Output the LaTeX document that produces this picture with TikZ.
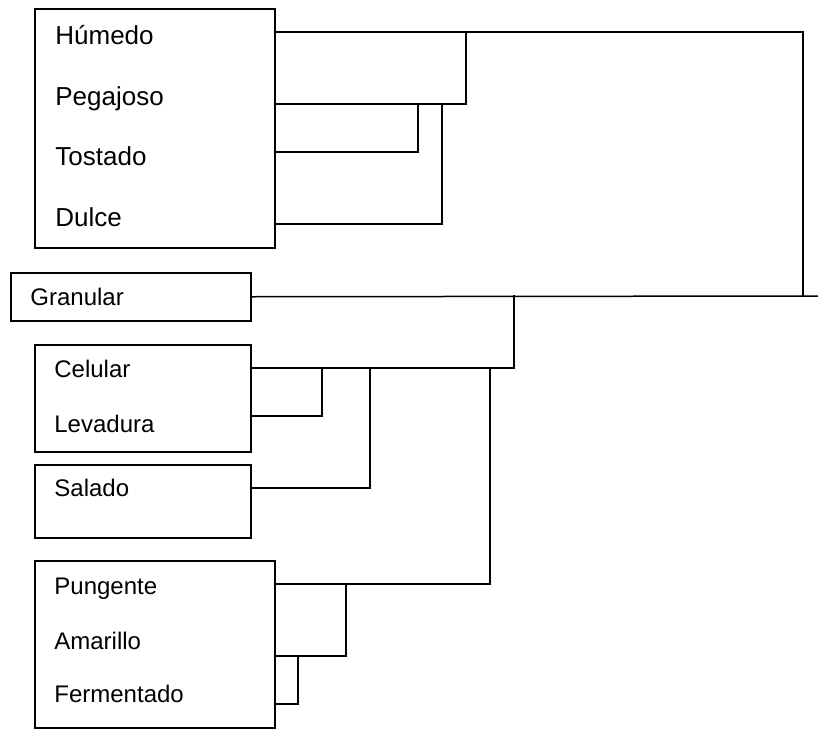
\documentclass[tikz,border=0pt]{standalone}
\usepackage{fontspec}
\setmainfont{Liberation Sans}
\usepackage{tikz}
\usetikzlibrary{positioning}

\begin{document}
\begin{tikzpicture}[
  x=0.5pt, y=-0.5pt,
  group/.style={rectangle, draw, line width=0.75pt, anchor=north west, inner sep=0pt},
  lab/.style={anchor=base west, inner sep=0pt, font=\fontsize{12}{14}\selectfont},
  labbig/.style={lab, font=\fontsize{13}{15}\selectfont},
  link/.style={line width=0.75pt, line cap=rect},
]
\useasboundingbox (0,0) rectangle (818,728);

% Boxes (left column)
\node[group, minimum width=120pt, minimum height=119.5pt] (grpA) at (34,8) {};
\node[group, minimum width=120pt, minimum height=24pt] (gran) at (10,272) {};
\node[group, minimum width=108pt, minimum height=53.5pt] (grpB) at (34,344) {};
\node[group, minimum width=108pt, minimum height=36.5pt] (grpS) at (34,464) {};
\node[group, minimum width=120pt, minimum height=83.5pt] (grpC) at (34,560) {};

% Labels
\node[labbig] (hum) at (55,44) {Húmedo};
\node[labbig] (peg) at (55,105) {Pegajoso};
\node[labbig] (tos) at (55,165) {Tostado};
\node[labbig] (dul) at (55,226) {Dulce};
\node[lab] (granlab) at (30,305) {Granular};
\node[lab] (cel) at (54,377) {Celular};
\node[lab] (lev) at (54,432) {Levadura};
\node[lab] (sal) at (54,496) {Salado};
\node[lab] (pun) at (54,594) {Pungente};
\node[lab] (ama) at (54,649) {Amarillo};
\node[lab] (fer) at (54,702) {Fermentado};

% Join points
\coordinate (top) at (803,32);
\coordinate (root) at (803,296);
\coordinate (tail) at (818,296);
\coordinate (jPeg) at (466,104);
\coordinate (jTos) at (418,152);
\coordinate (jDul) at (442,224);
\coordinate (jCel) at (514,368);
\coordinate (jLev) at (322,416);
\coordinate (jSal) at (370,488);
\coordinate (jPun) at (490,584);
\coordinate (jAma) at (346,656);
\coordinate (jFer) at (298,704);

% Upper branch
\draw[link] (grpA.east |- top) -- (top) -- (root);
\draw[link] (grpA.east |- jPeg) -| (jPeg |- top);
\draw[link] (grpA.east |- jTos) -| (jTos |- jPeg);
\draw[link] (grpA.east |- jDul) -| (jDul |- jPeg);

% Granular
\draw[link] (gran.east) -- (tail);

% Lower branch
\draw[link] (grpB.east |- jCel) -| (jCel |- root);
\draw[link] (grpB.east |- jLev) -| (jLev |- jCel);
\draw[link] (grpS.east |- jSal) -| (jSal |- jCel);
\draw[link] (grpC.east |- jPun) -| (jPun |- jCel);
\draw[link] (grpC.east |- jAma) -| (jAma |- jPun);
\draw[link] (grpC.east |- jFer) -| (jFer |- jAma);

\end{tikzpicture}
\end{document}
